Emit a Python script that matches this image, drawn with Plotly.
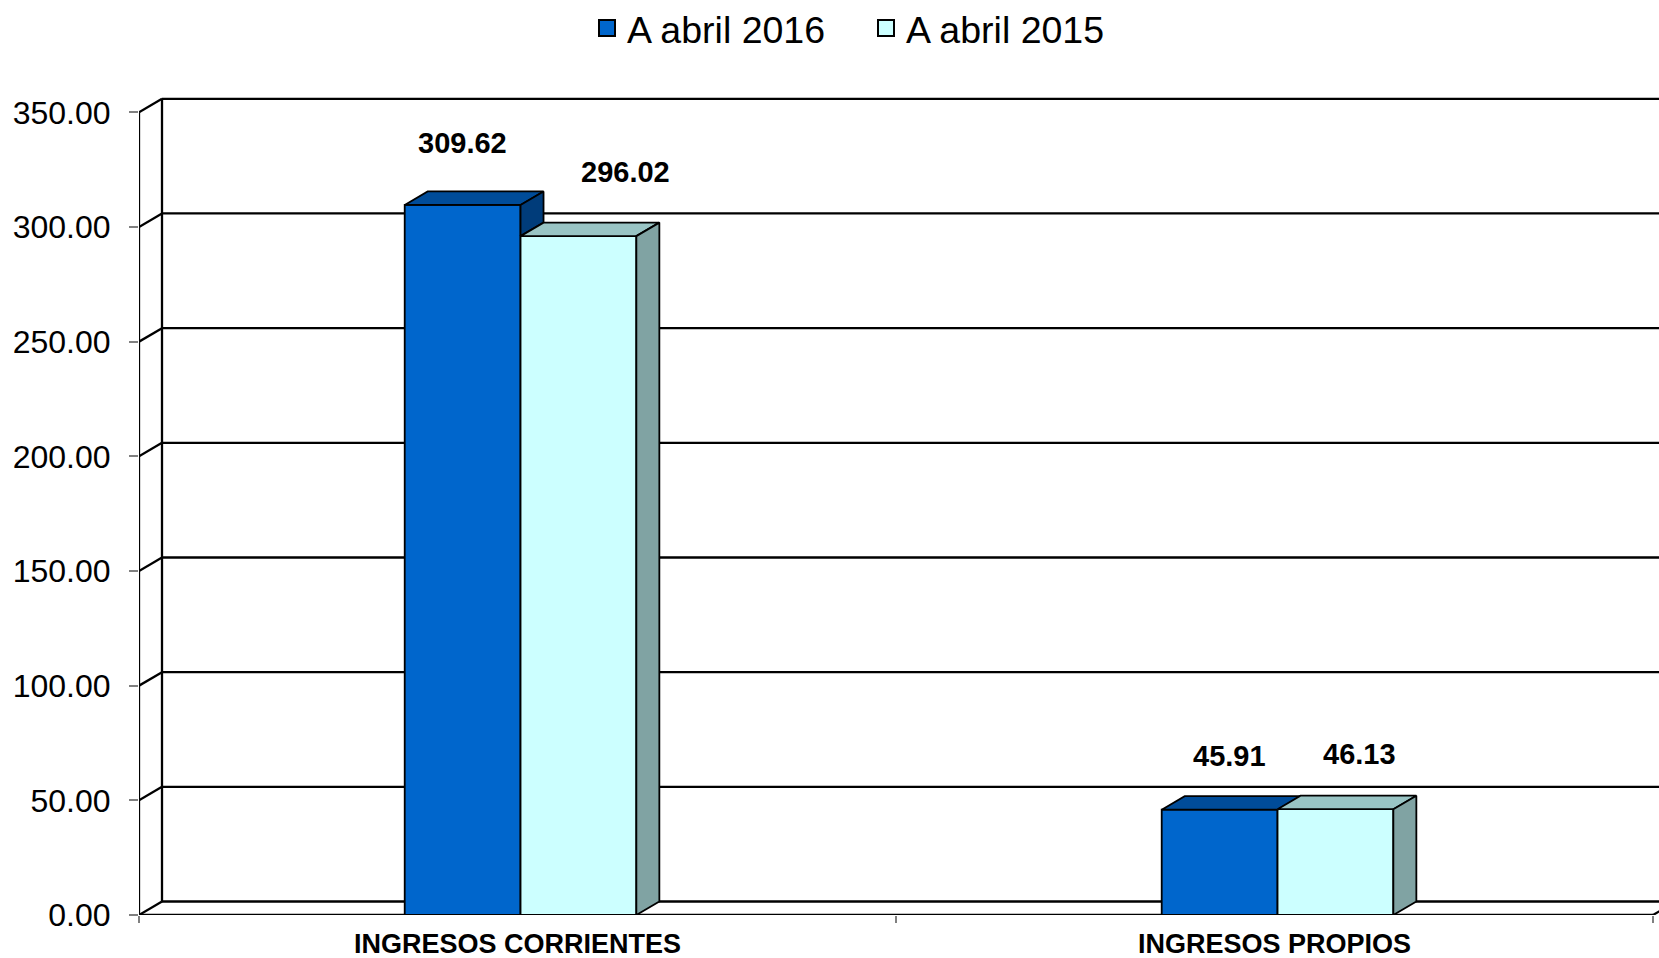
import plotly.graph_objects as go

# ---------------- data ----------------
categories = ["INGRESOS CORRIENTES", "INGRESOS PROPIOS"]
series_names = ["A abril 2016", "A abril 2015"]
values_2016 = [309.62, 45.91]
values_2015 = [296.02, 46.13]
y_ticks = [0, 50, 100, 150, 200, 250, 300, 350]

# ---------------- style / geometry ----------------
W, H = 1659, 958
ML, MR, MT, MB = 139, 0, 80, 43
PW, PH = W - ML - MR, H - MT - MB
CAT_PX = 757.0           # pixels per category
VAL_PX = 802.7 / 350.0   # pixels per value unit
DX_PX, DY_PX = 23.0, 13.5  # 3D depth offset in pixels

x_range = [-0.5, -0.5 + PW / CAT_PX]
y_range = [0, PH / VAL_PX]
dxu = DX_PX / CAT_PX
dyv = DY_PX / VAL_PX

bar_w = 0.153
offsets = [-0.149, 0.004]
front_cols = ["#0066CC", "#CCFFFF"]
top_cols = ["#004C99", "#99C4C4"]
side_cols = ["#003C7A", "#80A3A3"]
label_xshift = [[0, 10], [47, 24]]
label_yshift = [[48, 40], [51, 42]]
FONT = "Liberation Sans, Arial, sans-serif"

series = [values_2016, values_2015]
xs_cat = list(range(len(categories)))

fig = go.Figure()

# front faces of the bars
for s, vals in enumerate(series):
    fig.add_trace(go.Bar(
        x=xs_cat, y=vals, width=bar_w, offset=offsets[s],
        marker=dict(color=front_cols[s], line=dict(color="black", width=1.8)),
        showlegend=False, hoverinfo="skip"))

# tops and sides (3D look) as filled polygons in data space
for s, vals in enumerate(series):
    for i, v in enumerate(vals):
        x0 = i + offsets[s]
        x1 = x0 + bar_w
        fig.add_trace(go.Scatter(
            x=[x0, x1, x1 + dxu, x0 + dxu, x0],
            y=[v, v, v + dyv, v + dyv, v],
            fill="toself", fillcolor=top_cols[s], mode="lines",
            line=dict(color="black", width=1.8),
            showlegend=False, hoverinfo="skip"))
        if s == len(series) - 1:
            lo = 0
        else:
            lo = min(v, series[s + 1][i])
        if v > lo:
            fig.add_trace(go.Scatter(
                x=[x1, x1 + dxu, x1 + dxu, x1, x1],
                y=[lo, lo + dyv, v + dyv, v, lo],
                fill="toself", fillcolor=side_cols[s], mode="lines",
                line=dict(color="black", width=1.8),
                showlegend=False, hoverinfo="skip"))

# legend entries
for s, name in enumerate(series_names):
    fig.add_trace(go.Scatter(
        x=[None], y=[None], mode="markers", name=name,
        marker=dict(symbol="square", size=18, color=front_cols[s],
                    line=dict(color="black", width=2))))

# helper trace for the boundary ticks axis
fig.add_trace(go.Scatter(x=[None], y=[None], xaxis="x2", yaxis="y",
                         showlegend=False, hoverinfo="skip"))

# data labels
annotations = []
for s, vals in enumerate(series):
    for i, v in enumerate(vals):
        annotations.append(dict(
            x=i + offsets[s] + bar_w / 2, y=v + dyv, xref="x", yref="y",
            text=f"{v:.2f}", showarrow=False,
            xshift=label_xshift[s][i], yshift=label_yshift[s][i],
            font=dict(family=FONT, size=29, color="black", weight="bold"),
            xanchor="center", yanchor="middle"))

# walls and back gridlines
shapes = []
lw = dict(color="black", width=2.3)
x_front_l = -0.5
x_front_r = -0.5 + len(categories)
for t in y_ticks:
    shapes.append(dict(type="line", xref="x", yref="y", layer="below",
                       x0=x_front_l, y0=t, x1=x_front_l + dxu, y1=t + dyv, line=lw))
    shapes.append(dict(type="line", xref="x", yref="y", layer="below",
                       x0=x_front_l + dxu, y0=t + dyv, x1=x_front_r + dxu, y1=t + dyv, line=lw))
shapes.append(dict(type="line", xref="x", yref="y", layer="below",
                   x0=x_front_l, y0=0, x1=x_front_l, y1=max(y_ticks), line=lw))
shapes.append(dict(type="line", xref="x", yref="y", layer="below",
                   x0=x_front_l + dxu, y0=dyv, x1=x_front_l + dxu, y1=max(y_ticks) + dyv, line=lw))
shapes.append(dict(type="line", xref="x", yref="y", layer="below",
                   x0=x_front_l, y0=0, x1=x_front_r, y1=0, line=lw))
shapes.append(dict(type="line", xref="x", yref="y", layer="below",
                   x0=x_front_r, y0=0, x1=x_front_r + dxu, y1=dyv, line=lw))

fig.update_layout(
    width=W, height=H,
    margin=dict(l=ML, r=MR, t=MT, b=MB, pad=0, autoexpand=False),
    paper_bgcolor="white", plot_bgcolor="white",
    barmode="overlay",
    font=dict(family=FONT, color="black"),
    shapes=shapes, annotations=annotations,
    showlegend=True,
    legend=dict(orientation="h", xref="container", yref="container",
                x=866 / W, y=1 - 28 / H,
                xanchor="center", yanchor="middle",
                font=dict(family=FONT, size=37.5, color="black"),
                entrywidth=234, bgcolor="rgba(0,0,0,0)", itemclick=False),
    xaxis=dict(range=x_range, tickvals=xs_cat, ticktext=categories,
               ticks="", showgrid=False, zeroline=False, showline=False,
               automargin=False, ticklabelstandoff=10,
               tickfont=dict(family=FONT, size=27, color="black", weight="bold")),
    xaxis2=dict(range=x_range, overlaying="x", anchor="y", side="bottom",
                tickvals=[c - 0.5 for c in range(len(categories) + 1)],
                ticks="outside", ticklen=7, tickwidth=1.5, tickcolor="#808080",
                automargin=False,
                showticklabels=False, showgrid=False, zeroline=False, showline=False),
    yaxis=dict(range=y_range, tickvals=y_ticks, tickformat=".2f",
               ticks="outside", ticklen=9, tickwidth=1.5, tickcolor="#808080",
               showgrid=False, zeroline=False, showline=False,
               automargin=False, ticklabelstandoff=12,
               tickfont=dict(family=FONT, size=32, color="black")),
)

fig.write_html("out.html", config={"displayModeBar": False},
               post_script="document.body.style.margin='0px';")
